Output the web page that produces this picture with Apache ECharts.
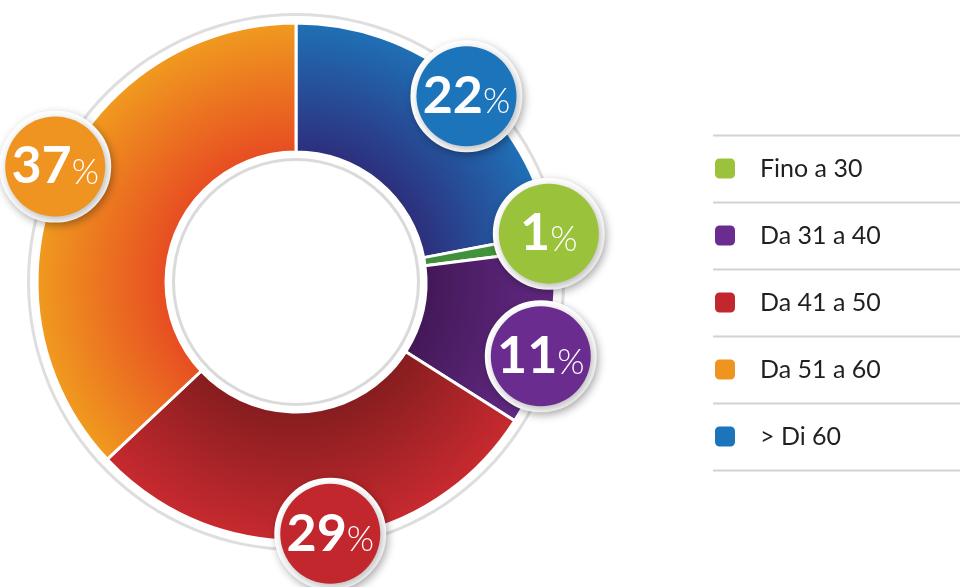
<!DOCTYPE html>
<html>
<head>
<meta charset="utf-8">
<style>
  html, body { margin: 0; padding: 0; background: #ffffff; }
  #chart { width: 960px; height: 587px; }
</style>
<script src="https://cdn.jsdelivr.net/npm/echarts@6/dist/echarts.min.js"></script>
</head>
<body>
<div id="chart"></div>
<script>
// Age bands in ring order (clockwise from 12 o'clock) and their shares in percent
const categories = ['> Di 60', 'Fino a 30', 'Da 31 a 40', 'Da 41 a 50', 'Da 51 a 60'];
const shares = [22, 1, 11, 29, 37];
// Order of the entries in the legend list
const legendOrder = ['Fino a 30', 'Da 31 a 40', 'Da 41 a 50', 'Da 51 a 60', '> Di 60'];

// Flat colours (badges and legend keys) and inner/outer shades of the ring gradient
const flatColors = {
  '> Di 60':    '#1c74bb',
  'Fino a 30':  '#9bc23b',
  'Da 31 a 40': '#6a2c8e',
  'Da 41 a 50': '#c1272d',
  'Da 51 a 60': '#ef9421'
};
const ringShades = {
  '> Di 60':    ['#2d2f7c', '#1f70b6'],
  'Fino a 30':  ['#3e8e3b', '#47993f'],
  'Da 31 a 40': ['#431857', '#632a85'],
  'Da 41 a 50': ['#861d1f', '#c72a2f'],
  'Da 51 a 60': ['#e74d22', '#f09a1f']
};
// Small hand nudges so neighbouring badges do not collide
const badgeNudge = {
  '> Di 60':    [6, 13],
  'Fino a 30':  [-2, -8],
  'Da 31 a 40': [-7, 18],
  'Da 41 a 50': [10, -5],
  'Da 51 a 60': [-4, -13]
};

const CX = 296, CY = 282;
const R_IN = 130, R_OUT = 259;

function ringGradient(name) {
  const s = ringShades[name];
  return {
    type: 'radial', x: CX, y: CY, r: R_OUT, global: true,
    colorStops: [
      { offset: 0, color: s[0] },
      { offset: R_IN / R_OUT, color: s[0] },
      { offset: 1, color: s[1] }
    ]
  };
}

const chart = echarts.init(document.getElementById('chart'), null, { renderer: 'canvas' });

// Legend rows: separators between entries
const LEG_X = 713, LEG_TOP = 156, LEG_PITCH = 67, LEG_ICON = 22, LEG_ROW = 25;
const separators = [];
for (let i = 0; i <= legendOrder.length; i++) {
  const y = Math.round(168 + LEG_PITCH * i - LEG_PITCH / 2) + 0.5;
  separators.push({
    type: 'line',
    shape: { x1: LEG_X, y1: y, x2: 960, y2: y },
    style: { stroke: '#d2d2d2', lineWidth: 2 },
    silent: true
  });
}

const option = {
  animation: false,
  backgroundColor: '#ffffff',
  graphic: separators,
  legend: {
    orient: 'vertical',
    left: LEG_X,
    top: LEG_TOP,
    padding: 0,
    itemWidth: LEG_ICON,
    itemHeight: LEG_ICON,
    itemGap: LEG_PITCH - LEG_ROW,
    icon: 'roundRect',
    selectedMode: false,
    data: legendOrder.map(n => ({ name: n, itemStyle: { color: flatColors[n] } })),
    textStyle: {
      fontFamily: 'Lato',
      fontSize: 25,
      lineHeight: LEG_ICON,
      color: '#231f20',
      padding: [0, 0, 0, 19]
    }
  },
  series: [
    // thin grey outer ring
    {
      type: 'pie', silent: true, center: [CX, CY], radius: [266, 269],
      label: { show: false }, labelLine: { show: false },
      itemStyle: { color: '#dedede' },
      data: [{ value: 1, name: '' }]
    },
    // thin grey ring inside the white hole
    {
      type: 'pie', silent: true, center: [CX, CY], radius: [121, 124],
      label: { show: false }, labelLine: { show: false },
      itemStyle: { color: '#dadada' },
      data: [{ value: 1, name: '' }]
    },
    // the age-band ring
    {
      type: 'pie',
      name: 'Età',
      center: [CX, CY],
      radius: [R_IN, R_OUT],
      startAngle: 90,
      clockwise: true,
      avoidLabelOverlap: false,
      label: { show: false },
      labelLine: { show: false },
      emphasis: { disabled: true },
      itemStyle: { borderColor: '#ffffff', borderWidth: 3 },
      data: categories.map((n, i) => ({
        name: n, value: shares[i], itemStyle: { color: ringGradient(n) }
      }))
    },
    // percentage badges sitting on the outer edge of each slice
    {
      type: 'pie',
      silent: true,
      center: [CX, CY],
      radius: [236, 274],
      startAngle: 90,
      clockwise: true,
      avoidLabelOverlap: false,
      minShowLabelAngle: 0,
      labelLayout: { hideOverlap: false, moveOverlap: null },
      emphasis: { disabled: true },
      itemStyle: { color: 'rgba(0,0,0,0)', borderWidth: 0 },
      labelLine: { show: false },
      label: {
        show: true,
        position: 'inside',
        rotate: 0,
        overflow: 'none',
        formatter: p => '{v|' + p.value + '}{p|%}',
        width: 100,
        height: 100,
        borderRadius: 50,
        borderColor: '#ffffff',
        borderWidth: 6,
        shadowColor: 'rgba(0,0,0,0.28)',
        shadowBlur: 8,
        shadowOffsetX: 2,
        shadowOffsetY: 3,
        rich: {
          v: {
            fontFamily: 'Lato', fontWeight: 'bold', fontSize: 52,
            color: '#ffffff', lineHeight: 100, align: 'center'
          },
          p: {
            fontFamily: 'Lato', fontWeight: 300, fontSize: 35,
            color: '#ffffff', lineHeight: 100, align: 'center',
            padding: [12, 0, 0, 0]
          }
        }
      },
      data: categories.map((n, i) => ({
        name: n, value: shares[i],
        label: { backgroundColor: flatColors[n], offset: badgeNudge[n] }
      }))
    }
  ]
};

chart.setOption(option);
</script>
</body>
</html>
